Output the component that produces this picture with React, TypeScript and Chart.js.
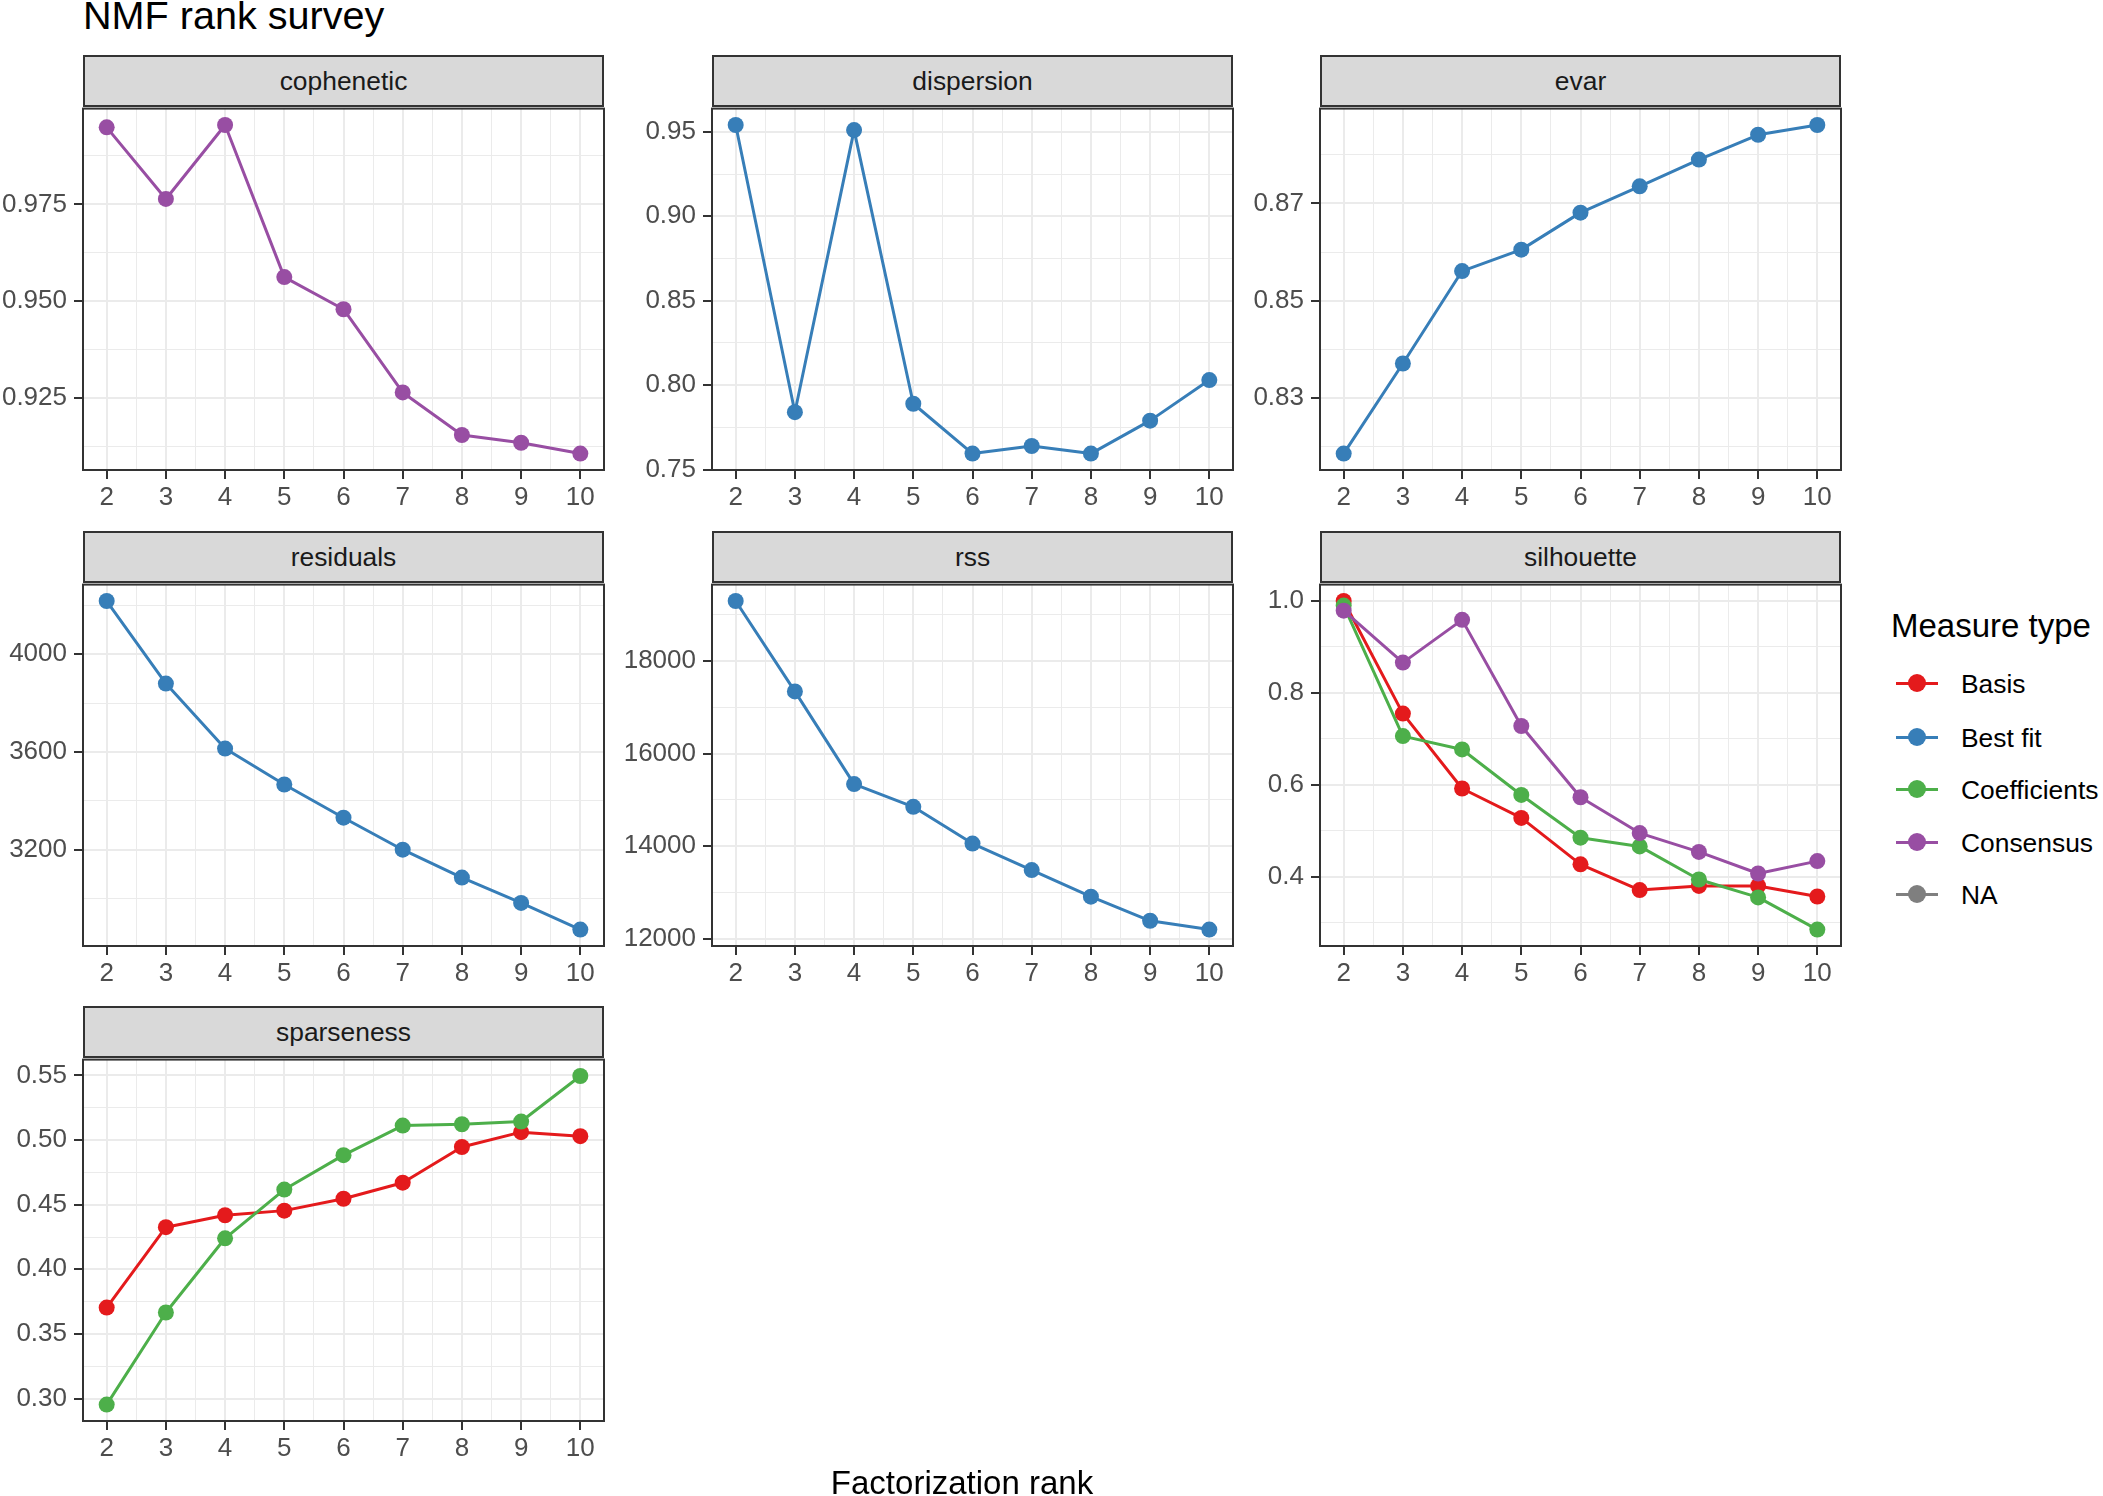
import { useEffect, useRef } from "react";
import { Chart, registerables } from "chart.js";

Chart.register(...registerables);

const FONT = "'Liberation Sans', Arial, Helvetica, sans-serif";

// factorization ranks (x axis)
const ranks = [2, 3, 4, 5, 6, 7, 8, 9, 10];

// measures
const cophenetic = [0.9949, 0.9764, 0.9955, 0.9562, 0.9479, 0.9264, 0.9154, 0.9134, 0.9106];
const dispersion = [0.954, 0.784, 0.951, 0.789, 0.7595, 0.764, 0.7595, 0.779, 0.803];
const evar = [0.8186, 0.8371, 0.8561, 0.8605, 0.8681, 0.8735, 0.879, 0.8841, 0.8861];
const residuals = [4218, 3880, 3614, 3467, 3331, 3200, 3086, 2982, 2873];
const rss = [19291, 17340, 15340, 14850, 14057, 13484, 12910, 12390, 12200];
const silhouetteBasis = [1.0, 0.755, 0.592, 0.528, 0.427, 0.371, 0.38, 0.38, 0.357];
const silhouetteCoef = [0.99, 0.706, 0.677, 0.578, 0.485, 0.466, 0.394, 0.355, 0.285];
const silhouetteCons = [0.979, 0.866, 0.959, 0.728, 0.573, 0.495, 0.454, 0.407, 0.434];
const sparseBasis = [0.3704, 0.4326, 0.4418, 0.4454, 0.4546, 0.467, 0.4946, 0.5061, 0.503];
const sparseCoef = [0.2954, 0.3666, 0.424, 0.4617, 0.4883, 0.5112, 0.5122, 0.5143, 0.5495];

// y tick labels per facet
const copheneticTicks = [0.925, 0.95, 0.975];
const dispersionTicks = [0.75, 0.8, 0.85, 0.9, 0.95];
const evarTicks = [0.83, 0.85, 0.87];
const residualsTicks = [3200, 3600, 4000];
const rssTicks = [12000, 14000, 16000, 18000];
const silhouetteTicks = [0.4, 0.6, 0.8, 1.0];
const sparsenessTicks = [0.3, 0.35, 0.4, 0.45, 0.5, 0.55];

const measureTypes = ["Basis", "Best fit", "Coefficients", "Consensus", "NA"];
const measureColors = ["#E41A1C", "#377EB8", "#4DAF4A", "#984EA3", "#7F7F7F"];
const [RED, BLUE, GREEN, PURPLE] = measureColors;

// layout
const COLS = [83, 712, 1320];
const ROWS = [106, 582, 1057];
const PW = 521;
const PH = 364;
const STRIP = 51;
const AXW = 100;
const AXH = 50;
const PADT = 20;
const PADR = 20;

type Series = { color: string; values: number[] };

type FacetProps = {
  label: string;
  left: number;
  top: number;
  yTicks: number[];
  digits: number;
  series: Series[];
};

const panelBorder = {
  id: "panelBorder",
  afterDraw(chart: any) {
    const { ctx, chartArea: a } = chart;
    ctx.save();
    ctx.strokeStyle = "#333333";
    ctx.lineWidth = 2;
    ctx.strokeRect(a.left, a.top, a.right - a.left, a.bottom - a.top);
    ctx.restore();
  },
};

function Facet({ label, left, top, yTicks, digits, series }: FacetProps) {
  const ref = useRef<HTMLCanvasElement>(null);

  useEffect(() => {
    const all = series.flatMap((s) => s.values);
    const lo = Math.min(...all);
    const hi = Math.max(...all);
    const pad = (hi - lo) * 0.05;
    const yMin = lo - pad;
    const yMax = hi + pad;
    const step = yTicks[1] - yTicks[0];
    const yMajor = yTicks.filter((v) => v >= yMin && v <= yMax);
    const yMinor = [yTicks[0] - step / 2, ...yTicks.map((t) => t + step / 2)].filter(
      (v) => v >= yMin && v <= yMax
    );
    const isMajorY = (v: number) => yMajor.some((m) => Math.abs(m - v) < step * 1e-6);

    const xMin = ranks[0] - (ranks[ranks.length - 1] - ranks[0]) * 0.05;
    const xMax = ranks[ranks.length - 1] + (ranks[ranks.length - 1] - ranks[0]) * 0.05;
    const xMinor = ranks.slice(1).map((r) => r - 0.5);
    const isMajorX = (v: number) => ranks.some((r) => Math.abs(r - v) < 1e-6);

    const pts = (vals: number[]) => ranks.map((r, j) => ({ x: r, y: vals[j] }));

    const datasets: any[] = [
      ...series.map((s, i) => ({
        data: pts(s.values),
        borderColor: s.color,
        backgroundColor: s.color,
        borderWidth: 3,
        borderJoinStyle: "round",
        pointRadius: 0,
        showLine: true,
        order: 20 - i,
      })),
      ...series.map((s, i) => ({
        data: pts(s.values),
        borderColor: s.color,
        backgroundColor: s.color,
        pointRadius: 8,
        pointBorderWidth: 0,
        showLine: false,
        order: 10 - i,
      })),
    ];

    const chart = new Chart(ref.current!, {
      type: "line",
      data: { datasets },
      plugins: [panelBorder],
      options: {
        animation: false,
        responsive: false,
        maintainAspectRatio: false,
        events: [],
        layout: { padding: { left: 0, top: PADT, right: PADR, bottom: 0 } },
        plugins: { legend: { display: false }, tooltip: { enabled: false } },
        scales: {
          x: {
            type: "linear",
            min: xMin,
            max: xMax,
            afterBuildTicks: (axis: any) => {
              axis.ticks = [...ranks, ...xMinor].sort((a, b) => a - b).map((v) => ({ value: v }));
            },
            afterFit: (axis: any) => {
              axis.height = AXH;
            },
            ticks: {
              autoSkip: false,
              maxRotation: 0,
              padding: 3,
              color: "#4D4D4D",
              font: { family: FONT, size: 26 },
              callback: (v: any) => (isMajorX(Number(v)) ? String(Math.round(Number(v))) : ""),
            },
            grid: {
              color: "#EBEBEB",
              lineWidth: (c: any) => (isMajorX(c.tick.value) ? 2 : 1),
              tickColor: (c: any) => (isMajorX(c.tick.value) ? "#333333" : "rgba(0,0,0,0)"),
              tickWidth: 2,
              tickLength: 9,
            },
            border: { display: false },
          },
          y: {
            type: "linear",
            min: yMin,
            max: yMax,
            afterBuildTicks: (axis: any) => {
              axis.ticks = [...yMajor, ...yMinor].sort((a, b) => a - b).map((v) => ({ value: v }));
            },
            afterFit: (axis: any) => {
              axis.width = AXW;
            },
            ticks: {
              autoSkip: false,
              padding: 7,
              color: "#4D4D4D",
              font: { family: FONT, size: 26 },
              callback: (v: any) => (isMajorY(Number(v)) ? Number(v).toFixed(digits) : ""),
            },
            grid: {
              color: "#EBEBEB",
              lineWidth: (c: any) => (isMajorY(c.tick.value) ? 2 : 1),
              tickColor: (c: any) => (isMajorY(c.tick.value) ? "#333333" : "rgba(0,0,0,0)"),
              tickWidth: 2,
              tickLength: 9,
            },
            border: { display: false },
          },
        },
      } as any,
    });

    return () => chart.destroy();
  }, [series, yTicks, digits]);

  const cw = AXW + PW + PADR;
  const ch = PADT + PH + AXH;

  return (
    <>
      <div
        style={{
          position: "absolute",
          left,
          top: top - STRIP,
          width: PW,
          height: STRIP + 1,
          boxSizing: "border-box",
          background: "#D9D9D9",
          border: "2px solid #333333",
          display: "flex",
          alignItems: "center",
          justifyContent: "center",
          fontFamily: FONT,
          fontSize: 26.4,
          color: "#1A1A1A",
        }}
      >
        {label}
      </div>
      <canvas
        ref={ref}
        width={cw}
        height={ch}
        style={{ position: "absolute", left: left - AXW, top: top - PADT, width: cw, height: ch }}
      />
    </>
  );
}

const facets: FacetProps[] = [
  { label: "cophenetic", left: COLS[0], top: ROWS[0], yTicks: copheneticTicks, digits: 3, series: [{ color: PURPLE, values: cophenetic }] },
  { label: "dispersion", left: COLS[1], top: ROWS[0], yTicks: dispersionTicks, digits: 2, series: [{ color: BLUE, values: dispersion }] },
  { label: "evar", left: COLS[2], top: ROWS[0], yTicks: evarTicks, digits: 2, series: [{ color: BLUE, values: evar }] },
  { label: "residuals", left: COLS[0], top: ROWS[1], yTicks: residualsTicks, digits: 0, series: [{ color: BLUE, values: residuals }] },
  { label: "rss", left: COLS[1], top: ROWS[1], yTicks: rssTicks, digits: 0, series: [{ color: BLUE, values: rss }] },
  {
    label: "silhouette",
    left: COLS[2],
    top: ROWS[1],
    yTicks: silhouetteTicks,
    digits: 1,
    series: [
      { color: RED, values: silhouetteBasis },
      { color: GREEN, values: silhouetteCoef },
      { color: PURPLE, values: silhouetteCons },
    ],
  },
  {
    label: "sparseness",
    left: COLS[0],
    top: ROWS[2],
    yTicks: sparsenessTicks,
    digits: 2,
    series: [
      { color: RED, values: sparseBasis },
      { color: GREEN, values: sparseCoef },
    ],
  },
];

const LEGEND_ROWS = [683, 737, 789, 842, 894];

export default function App() {
  return (
    <div
      style={{
        position: "absolute",
        left: 0,
        top: 0,
        width: 2103,
        height: 1496,
        overflow: "hidden",
        background: "#FFFFFF",
        fontFamily: FONT,
      }}
    >
      <div style={{ position: "absolute", left: 83, top: -5, fontSize: 39.6, lineHeight: "40px", color: "#000", whiteSpace: "nowrap" }}>
        NMF rank survey
      </div>

      {facets.map((f) => (
        <Facet key={f.label} {...f} />
      ))}

      <div
        style={{
          position: "absolute",
          left: COLS[0],
          width: COLS[2] + PW - COLS[0],
          top: 1463,
          fontSize: 33,
          lineHeight: "40px",
          textAlign: "center",
          color: "#000",
        }}
      >
        Factorization rank
      </div>

      <div style={{ position: "absolute", left: 1891, top: 606, fontSize: 33, lineHeight: "40px", color: "#000", whiteSpace: "nowrap" }}>
        Measure type
      </div>
      {measureTypes.map((m, i) => (
        <div key={m}>
          <div
            style={{
              position: "absolute",
              left: 1896,
              top: LEGEND_ROWS[i] - 1.5,
              width: 42,
              height: 3,
              background: measureColors[i],
            }}
          />
          <div
            style={{
              position: "absolute",
              left: 1917 - 9,
              top: LEGEND_ROWS[i] - 9,
              width: 18,
              height: 18,
              borderRadius: "50%",
              background: measureColors[i],
            }}
          />
          <div
            style={{
              position: "absolute",
              left: 1961,
              top: LEGEND_ROWS[i] - 19,
              fontSize: 26.4,
              lineHeight: "40px",
              color: "#000",
              whiteSpace: "nowrap",
            }}
          >
            {m}
          </div>
        </div>
      ))}
    </div>
  );
}
